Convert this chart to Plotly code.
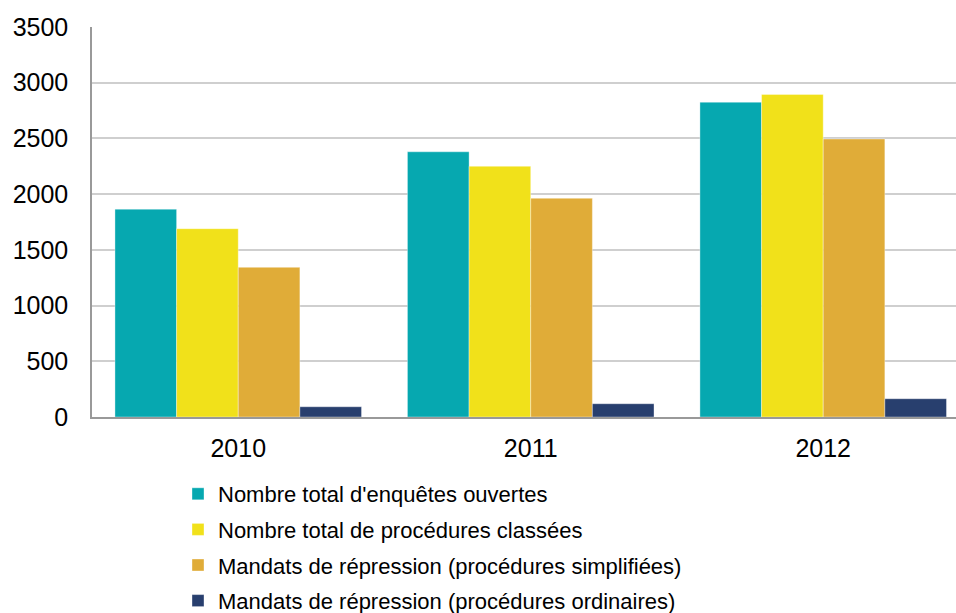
import plotly.graph_objects as go

years = ["2010", "2011", "2012"]
series_names = [
    "Nombre total d'enquêtes ouvertes",
    "Nombre total de procédures classées",
    "Mandats de répression (procédures simplifiées)",
    "Mandats de répression (procédures ordinaires)",
]
enquetes = [1865, 2380, 2825]
classees = [1690, 2250, 2895]
simplifiees = [1343, 1963, 2495]
ordinaires = [92, 119, 164]
colors = ["#06A8B0", "#F1E11A", "#E0AC38", "#283F6E"]
y_ticks = [0, 500, 1000, 1500, 2000, 2500, 3000, 3500]

fig = go.Figure()
for i, (name, vals) in enumerate(zip(series_names, [enquetes, classees, simplifiees, ordinaires])):
    fig.add_trace(go.Bar(
        x=years, y=vals, name=name,
        marker=dict(color=colors[i], line=dict(width=0.6, color="rgba(255,255,255,0.6)")),
        legendgroup=f"g{i}",
    ))

fig.update_layout(
    width=956, height=613,
    margin=dict(l=92, r=0, t=27, b=196, autoexpand=False),
    paper_bgcolor="white", plot_bgcolor="white",
    barmode="group", bargap=0.157, bargroupgap=0,
    font=dict(family="Liberation Sans, Arial, sans-serif", color="#000000"),
    legend=dict(
        x=178 / 956, xref="container", y=1 - 473 / 613, yref="container",
        xanchor="left", yanchor="top",
        font=dict(size=22, color="#000000"),
        traceorder="grouped", tracegroupgap=4,
        itemwidth=30, bgcolor="rgba(0,0,0,0)",
    ),
    showlegend=True,
)
fig.update_xaxes(
    type="category", range=[-0.5, 2.454],
    showline=True, linecolor="#999999", linewidth=2,
    showgrid=False, ticks="", tickfont=dict(size=25),
    ticklabelstandoff=8,
)
fig.update_yaxes(
    range=[0, 3500], tickvals=y_ticks,
    showgrid=True, gridcolor="#CFCFCF", gridwidth=1.5,
    showline=True, linecolor="#999999", linewidth=1.5,
    zeroline=False, ticks="", tickfont=dict(size=25),
    ticklabelstandoff=17,
)

fig.write_html("out.html")
